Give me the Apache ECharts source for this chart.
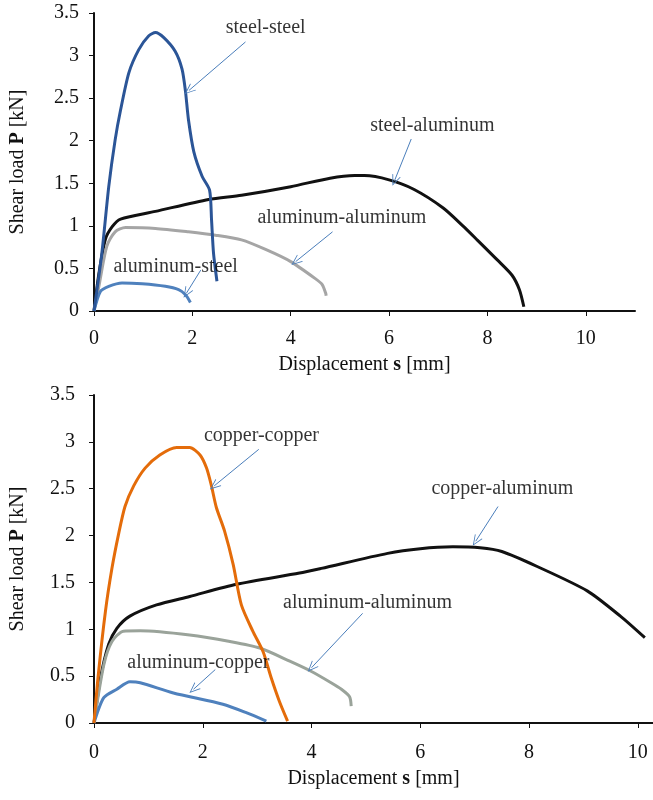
<!DOCTYPE html>
<html>
<head>
<meta charset="utf-8">
<script src="https://cdn.jsdelivr.net/npm/echarts@6/dist/echarts.min.js"></script>
<style>
  html, body { margin: 0; padding: 0; background: #fff; }
  #chart { width: 653px; height: 800px; }
</style>
</head>
<body>
<div id="chart"></div>
<script>
// top panel: [displacement mm, load kN]
const steelSteel = [[0,0],[0.16,0.68],[0.30,1.46],[0.43,2.01],[0.54,2.36],[0.71,2.80],[0.91,3.07],[1.11,3.23],[1.25,3.27],[1.42,3.21],[1.65,3.05],[1.79,2.84],[1.86,2.58],[1.92,2.25],[2.03,1.87],[2.20,1.58],[2.35,1.42],[2.39,1.07],[2.43,0.68],[2.50,0.35]];
const steelAluminum = [[0,0],[0.10,0.44],[0.23,0.84],[0.37,0.99],[0.54,1.08],[1.25,1.17],[2.33,1.31],[3.0,1.36],[4.0,1.46],[4.8,1.56],[5.3,1.59],[5.5,1.59],[6.0,1.54],[6.5,1.43],[7.1,1.21],[7.5,1.0],[7.8,0.83],[8.2,0.6],[8.5,0.42],[8.65,0.25],[8.74,0.05]];
const aluAlu1 = [[0,0],[0.10,0.29],[0.26,0.76],[0.43,0.93],[0.64,0.98],[1.25,0.97],[1.92,0.93],[2.47,0.89],[3.0,0.835],[3.5,0.72],[4.0,0.58],[4.5,0.38],[4.64,0.31],[4.71,0.21],[4.72,0.18]];
const aluSteel = [[0,0],[0.13,0.23],[0.30,0.29],[0.57,0.33],[0.98,0.32],[1.45,0.29],[1.72,0.25],[1.86,0.19],[1.96,0.10]];

// bottom panel
const copperCopper = [[0,0],[0.08,0.52],[0.21,1.19],[0.33,1.65],[0.45,2.01],[0.57,2.31],[0.73,2.53],[0.94,2.72],[1.21,2.86],[1.52,2.94],[1.76,2.94],[1.95,2.86],[2.07,2.72],[2.16,2.53],[2.25,2.30],[2.40,2.05],[2.56,1.69],[2.71,1.26],[2.92,0.98],[3.11,0.76],[3.26,0.48],[3.41,0.23],[3.56,0.02]];
const copperAluminum = [[0,0],[0.12,0.48],[0.27,0.84],[0.42,1.01],[0.66,1.14],[1.15,1.26],[1.76,1.35],[2.62,1.48],[3.78,1.60],[4.18,1.65],[5.4,1.81],[6.0,1.86],[6.6,1.88],[7.1,1.87],[7.5,1.83],[8.15,1.67],[9.07,1.41],[9.68,1.14],[10.13,0.91]];
const aluAlu2 = [[0,0],[0.18,0.62],[0.33,0.87],[0.54,0.98],[0.85,0.985],[1.76,0.94],[2.50,0.87],[3.05,0.80],[3.6,0.66],[4.0,0.55],[4.36,0.43],[4.55,0.36],[4.70,0.28],[4.73,0.18]];
const aluCopper = [[0,0],[0.18,0.27],[0.42,0.36],[0.66,0.44],[0.85,0.43],[1.46,0.32],[2.37,0.20],[2.80,0.11],[3.17,0.02]];

// annotation texts [x, y, text] and arrows [x1, y1, x2, y2]
const labelsTop = [[3.49,3.33,'steel-steel'],[6.88,2.18,'steel-aluminum'],[5.04,1.10,'aluminum-aluminum'],[1.66,0.52,'aluminum-steel']];
const arrowsTop = [[3.08,3.16,1.93,2.59],[6.45,2.02,6.11,1.53],[4.85,0.93,4.10,0.58],[2.17,0.48,1.88,0.21]];
const labelsBottom = [[3.08,3.07,'copper-copper'],[7.51,2.50,'copper-aluminum'],[5.03,1.285,'aluminum-aluminum'],[1.92,0.64,'aluminum-copper']];
const arrowsBottom = [[3.03,2.92,2.21,2.53],[7.43,2.31,7.02,1.94],[4.94,1.17,4.0,0.59],[2.23,0.57,1.83,0.36]];

const xTicks = [0, 2, 4, 6, 8, 10];

const font = 'Liberation Serif';
const arrowHead = 'path://M0,10 L5,0 L10,10 L9,10 L5,2 L1,10 Z';

function xAxis(idx, max, margin, gap) {
    return {
        type: 'value', gridIndex: idx, min: 0, max: max,
        name: 'Displacement {b|s} [mm]', nameLocation: 'middle', nameGap: gap,
        nameTextStyle: { fontFamily: font, fontSize: 20, color: '#111', rich: { b: { fontWeight: 'bold', fontFamily: font, fontSize: 20, color: '#111' } } },
        axisLine: { onZero: false, lineStyle: { color: '#111', width: 2 } },
        axisTick: { show: true, length: 5, lineStyle: { color: '#111', width: 1 }, customValues: xTicks },
        axisLabel: { fontFamily: font, fontSize: 20, color: '#111', margin: margin, customValues: xTicks },
        splitLine: { show: false }
    };
}

function yAxis(idx, margin) {
    return {
        type: 'value', gridIndex: idx, min: 0, max: 3.5, interval: 0.5,
        name: 'Shear load {b|P} [kN]', nameLocation: 'middle', nameGap: 66, nameRotate: 90,
        nameTextStyle: { fontFamily: font, fontSize: 20, color: '#111', rich: { b: { fontWeight: 'bold', fontFamily: font, fontSize: 20, color: '#111' } } },
        axisLine: { show: true, lineStyle: { color: '#111', width: 2 } },
        axisTick: { show: true, length: 5, lineStyle: { color: '#111', width: 1 } },
        axisLabel: { fontFamily: font, fontSize: 20, color: '#111', margin: margin },
        splitLine: { show: false }
    };
}

function curve(idx, data, color) {
    return {
        type: 'line', xAxisIndex: idx, yAxisIndex: idx, data: data,
        showSymbol: false, smooth: 0.25, smoothConstraint: false,
        lineStyle: { color: color, width: 3 }, z: 3
    };
}

function notes(idx, labels, arrows) {
    return {
        type: 'scatter', xAxisIndex: idx, yAxisIndex: idx, symbolSize: 0,
        data: labels.map(l => ({ value: [l[0], l[1]], name: l[2] })),
        label: { show: true, position: 'inside', formatter: '{b}', fontFamily: font, fontSize: 20, color: '#000', textBorderWidth: 0 },
        markLine: {
            silent: true, animation: false,
            symbol: ['none', arrowHead], symbolSize: [9, 11],
            label: { show: false },
            lineStyle: { color: '#4a7ebb', width: 1, type: 'solid' },
            data: arrows.map(a => [{ coord: [a[0], a[1]] }, { coord: [a[2], a[3]] }])
        },
        z: 4
    };
}

const chart = echarts.init(document.getElementById('chart'));
chart.setOption({
    animation: false,
    backgroundColor: '#fff',
    grid: [
        { left: 93, top: 13, width: 542, height: 298 },
        { left: 92, top: 395, width: 561, height: 328 }
    ],
    xAxis: [xAxis(0, 11, 18, 44), xAxis(1, 10.28, 20, 46)],
    yAxis: [yAxis(0, 15), yAxis(1, 19)],
    series: [
        curve(0, steelAluminum, '#111111'),
        curve(0, aluAlu1, '#a5a5a5'),
        curve(0, aluSteel, '#4f81bd'),
        curve(0, steelSteel, '#2b5597'),
        notes(0, labelsTop, arrowsTop),
        curve(1, copperAluminum, '#111111'),
        curve(1, aluAlu2, '#9aa39a'),
        curve(1, aluCopper, '#4f81bd'),
        curve(1, copperCopper, '#e46c0a'),
        notes(1, labelsBottom, arrowsBottom)
    ]
});
</script>
</body>
</html>
